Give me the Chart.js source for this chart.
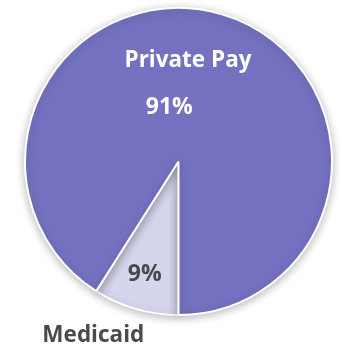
<!DOCTYPE html>
<html>
<head>
<meta charset="utf-8">
<script src="https://cdn.jsdelivr.net/npm/chart.js@4.4.1/dist/chart.umd.min.js"></script>
<style>
  html, body { margin: 0; padding: 0; background: #ffffff; }
  #wrap { width: 342px; height: 349px; position: relative; }
</style>
</head>
<body>
<div id="wrap"><canvas id="payChart" width="342" height="349"></canvas></div>
<script>
// donnees du graphique
const categories = ['Medicaid', 'Private Pay'];
const shares = [9, 91];
const sliceColors = ['#d6d5ee', '#7472c0'];

const FONT = '"Open Sans", "Noto Sans", sans-serif';

// ombre legere autour du camembert
const shadowPlugin = {
  id: 'pieShadow',
  beforeDatasetsDraw(chart) {
    const ctx = chart.ctx;
    ctx.save();
    ctx.shadowColor = 'rgba(0,0,0,0.28)';
    ctx.shadowBlur = 10;
    ctx.shadowOffsetX = 0;
    ctx.shadowOffsetY = 2;
  },
  afterDatasetsDraw(chart) {
    chart.ctx.restore();
  }
};

// etiquettes (nom + pourcentage)
const labelPlugin = {
  id: 'sliceLabels',
  afterDraw(chart) {
    const ctx = chart.ctx;
    const arcs = chart.getDatasetMeta(0).data;
    const cx = arcs[0].x, cy = arcs[0].y, r = arcs[0].outerRadius;
    ctx.save();
    ctx.textAlign = 'center';
    ctx.textBaseline = 'alphabetic';

    // Private Pay (blanc, dans la part)
    ctx.fillStyle = '#ffffff';
    ctx.font = 'bold 22.5px ' + FONT;
    ctx.fillText(categories[1], cx + r * 0.062, cy - r * 0.615);
    ctx.font = 'bold 23px ' + FONT;
    ctx.fillText(shares[1] + '%', cx - r * 0.06, cy - r * 0.31);

    // Medicaid (gris fonce)
    ctx.fillStyle = '#4a4a4a';
    ctx.fillText(shares[0] + '%', cx - r * 0.22, cy + r * 0.78);
    ctx.font = 'bold 22.5px ' + FONT;
    ctx.fillText(categories[0], cx - r * 0.555, cy + r * 1.178);
    ctx.restore();
  }
};

new Chart(document.getElementById('payChart'), {
  type: 'pie',
  data: {
    labels: categories,
    datasets: [{
      data: shares,
      backgroundColor: sliceColors,
      borderColor: '#ffffff',
      borderWidth: 2
    }]
  },
  options: {
    responsive: false,
    animation: false,
    rotation: 180,
    layout: { padding: { left: 24, right: 9, top: 7, bottom: 33 } },
    plugins: {
      legend: { display: false },
      tooltip: { enabled: false }
    }
  },
  plugins: [shadowPlugin, labelPlugin]
});
</script>
</body>
</html>
